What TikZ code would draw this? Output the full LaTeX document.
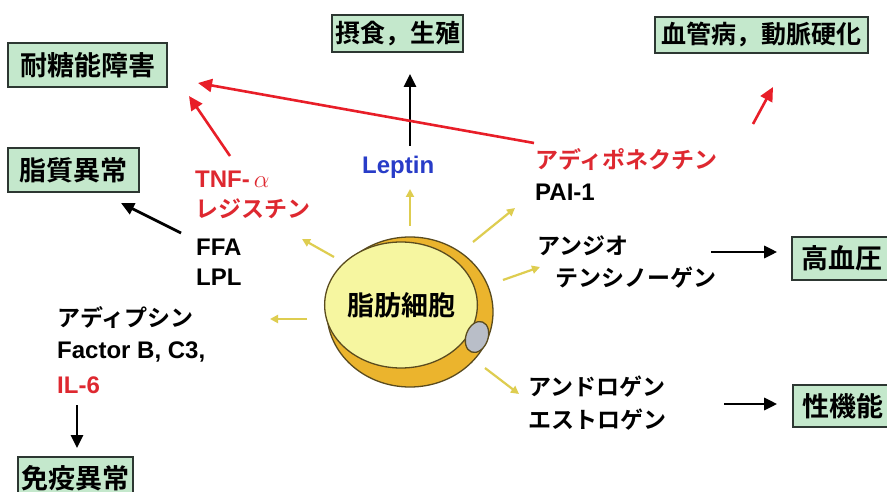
\documentclass[tikz,border=0pt]{standalone}
\usepackage{fontspec}
\setmainfont{Noto Sans CJK JP}[BoldFont={Noto Sans CJK JP Bold}]
\newfontfamily\latinsans{Liberation Sans}
\usetikzlibrary{arrows.meta,shapes.geometric}

\definecolor{boxfill}{RGB}{196,232,204}
\definecolor{boxline}{RGB}{45,55,50}
\definecolor{redtxt}{RGB}{222,40,48}
\definecolor{redarrow}{RGB}{232,30,40}
\definecolor{leptinblue}{RGB}{40,60,200}
\definecolor{sigyellow}{RGB}{222,205,80}
\definecolor{cellgold}{RGB}{235,180,45}
\definecolor{cellpale}{RGB}{246,246,160}
\definecolor{cellline}{RGB}{90,75,30}
\definecolor{nucgrey}{RGB}{185,190,200}

\begin{document}
\begin{tikzpicture}[x=1pt,y=-1pt,
  outcome/.style={draw=boxline, line width=1.6pt, fill=boxfill, inner sep=0pt,
    font=\bfseries\fontsize{27}{27}\selectfont},
  outcomesm/.style={outcome, font=\bfseries\fontsize{25}{25}\selectfont},
  factor/.style={anchor=west, inner sep=0pt, font=\bfseries\fontsize{23}{23}\selectfont},
  latinfactor/.style={factor, font=\latinsans\bfseries\fontsize{24}{24}\selectfont},
  effect/.style={line width=2.8pt, -{Triangle[length=13pt,width=12pt]}},
  redeffect/.style={draw=redarrow, line width=2.6pt, -{Triangle[length=14pt,width=13pt]}},
  secrete/.style={draw=sigyellow, line width=2.2pt, -{Triangle[length=8pt,width=8pt]}}
]
\useasboundingbox (0,0) rectangle (887,492);
\fill[white] (0,0) rectangle (887,492);

% outcome boxes
\node[outcome, minimum width=159pt, minimum height=44pt] (taito)  at (87.5,65)  {耐糖能障害};
\node[outcome, minimum width=131pt, minimum height=44pt] (lipid)  at (73.5,170) {脂質異常};
\node[outcomesm, minimum width=131pt, minimum height=37pt] (feed)  at (397.5,33.5) {摂食，生殖};
\node[outcomesm, minimum width=213pt, minimum height=36pt] (vasc)  at (761.5,35) {血管病，動脈硬化};
\node[outcome, minimum width=100pt, minimum height=43pt] (htn)    at (842,258.5) {高血圧};
\node[outcome, minimum width=100pt, minimum height=42pt] (sex)    at (843,406) {性機能};
\node[outcome, minimum width=115pt, minimum height=42pt] (immune) at (75.5,478) {免疫異常};

% the adipocyte
\node[ellipse, draw=cellline, line width=1.3pt, fill=cellgold,
  minimum width=166pt, minimum height=150pt, inner sep=0pt] (cell) at (410,312) {};
\node[ellipse, draw=cellline, line width=1.3pt, fill=cellpale,
  minimum width=144pt, minimum height=126pt, inner sep=0pt,
  font=\bfseries\fontsize{27}{27}\selectfont] (core) at (401,305) {脂肪細胞};
\node[ellipse, draw=cellline, line width=1.3pt, fill=nucgrey,
  minimum width=22pt, minimum height=32pt, inner sep=0pt, rotate=-20] (nucleus) at (477,337) {};

% secreted factors
\node[latinfactor, text=redtxt] (tnf) at (195,179) {TNF-\,{\normalfont$\alpha$}};
\node[factor, text=redtxt] (resistin) at (195,209) {レジスチン};
\node[latinfactor] (ffa) at (196,247) {FFA};
\node[latinfactor] (lpl) at (196,277) {LPL};
\node[factor] (adipsin) at (57,318) {アディプシン};
\node[latinfactor] (factorb) at (57,352) {Factor B, C3,};
\node[latinfactor, text=redtxt] (il6) at (57,385) {IL-6};
\node[latinfactor, text=leptinblue] (leptin) at (362,167) {Leptin};
\node[factor, text=redtxt] (adipo) at (535,160) {アディポネクチン};
\node[latinfactor] (pai) at (535,192) {PAI-1};
\node[factor] (angio) at (537,246) {アンジオ};
\node[factor] (tensin) at (555,278) {テンシノーゲン};
\node[factor] (andro) at (528,387) {アンドロゲン};
\node[factor] (estro) at (528,420) {エストロゲン};

% secretion arrows from the cell
\coordinate (sUpT) at (410,226);  \coordinate (sUpH) at (410,189);
\coordinate (sUlT) at (334,257);  \coordinate (sUlH) at (302,239);
\coordinate (sLT)  at (307,319);  \coordinate (sLH)  at (270,319);
\coordinate (sUrT) at (473,242);  \coordinate (sUrH) at (515,208);
\coordinate (sRT)  at (503,280);  \coordinate (sRH)  at (540,267);
\coordinate (sLrT) at (485,368);  \coordinate (sLrH) at (519,394);
\draw[secrete] (sUpT) -- (sUpH);
\draw[secrete] (sUlT) -- (sUlH);
\draw[secrete] (sLT) -- (sLH);
\draw[secrete] (sUrT) -- (sUrH);
\draw[secrete] (sRT) -- (sRH);
\draw[secrete] (sLrT) -- (sLrH);

% effects of the factors
\coordinate (lepT) at (410,146); \coordinate (lepH) at (410,74);
\draw[effect] (lepT) -- (lepH);
\coordinate (ffaT) at (181,233); \coordinate (ffaH) at (121,203);
\draw[effect] (ffaT) -- (ffaH);
\coordinate (ilT) at (77,405); \coordinate (ilH) at (77,448);
\draw[effect] (ilT) -- (ilH);
\draw[effect] ([xshift=-80pt]htn.west |- 0,252) -- ([xshift=-14pt]htn.west |- 0,252);
\draw[effect] ([xshift=-68pt]sex.west |- 0,404) -- ([xshift=-15pt]sex.west |- 0,404);

\coordinate (adT) at (534,143); \coordinate (adH) at (198,83);
\draw[redeffect] (adT) -- (adH);
\coordinate (tnfT) at (230,156); \coordinate (tnfH) at (189,96);
\draw[redeffect] (tnfT) -- (tnfH);
\coordinate (vaT) at (753,124); \coordinate (vaH) at (773,87);
\draw[redeffect] (vaT) -- (vaH);
\end{tikzpicture}
\end{document}
